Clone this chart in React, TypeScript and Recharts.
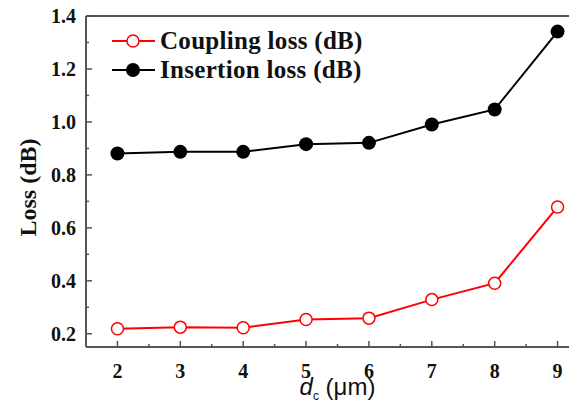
import React from "react";
import { LineChart, Line, XAxis, YAxis, ReferenceLine, Legend } from "recharts";

const dc = [2, 3, 4, 5, 6, 7, 8, 9];
const couplingLoss = [0.219, 0.225, 0.223, 0.254, 0.259, 0.329, 0.391, 0.679];
const insertionLoss = [0.881, 0.887, 0.887, 0.916, 0.921, 0.99, 1.047, 1.341];

const xTicks = [2, 2.5, 3, 3.5, 4, 4.5, 5, 5.5, 6, 6.5, 7, 7.5, 8, 8.5, 9, 9.5];
const yTicks = [0.2, 0.3, 0.4, 0.5, 0.6, 0.7, 0.8, 0.9, 1.0, 1.1, 1.2, 1.3, 1.4];

const seriesNames = ["Coupling loss (dB)", "Insertion loss (dB)"];

const data = dc.map((d, i) => ({ dc: d, coupling: couplingLoss[i], insertion: insertionLoss[i] }));

const AXIS = "#555";
const SERIF = "'Liberation Serif', 'Times New Roman', serif";

function XTick(props: any) {
  const { x, y, payload } = props;
  const major = Number.isInteger(payload.value);
  return (
    <g>
      <line x1={x} x2={x} y1={y} y2={y - (major ? 6 : 3)} stroke={AXIS} strokeWidth={1.5} />
      {major && (
        <text x={x} y={y + 31} textAnchor="middle" fontFamily={SERIF} fontWeight="bold" fontSize={20} fill="#111">
          {payload.value}
        </text>
      )}
    </g>
  );
}

function YTick(props: any) {
  const { x, y, payload } = props;
  const major = Math.round(payload.value * 10) % 2 === 0;
  return (
    <g>
      <line x1={x} x2={x + (major ? 6 : 3)} y1={y} y2={y} stroke={AXIS} strokeWidth={1.5} />
      {major && (
        <text x={x - 10} y={y + 7} textAnchor="end" fontFamily={SERIF} fontWeight="bold" fontSize={20} fill="#111">
          {payload.value.toFixed(1)}
        </text>
      )}
    </g>
  );
}

function LegendBox() {
  const rows = [
    { name: seriesNames[0], color: "#ff0000", open: true },
    { name: seriesNames[1], color: "#000", open: false },
  ];
  return (
    <div>
      {rows.map((r) => (
        <div key={r.name} style={{ display: "flex", alignItems: "center", height: 29 }}>
          <svg width={48} height={18}>
            <line x1={0} x2={43} y1={9} y2={9} stroke={r.color} strokeWidth={2} />
            <circle cx={21} cy={9} r={r.open ? 6 : 7} fill={r.open ? "#fff" : "#000"} stroke={r.color} strokeWidth={r.open ? 1.5 : 0} />
          </svg>
          <span style={{ fontFamily: SERIF, fontWeight: "bold", fontSize: 25, letterSpacing: 0.3, color: "#111", whiteSpace: "nowrap", lineHeight: 1 }}>
            {r.name}
          </span>
        </div>
      ))}
    </div>
  );
}

export default function App() {
  return (
    <div style={{ width: 569, height: 395, overflow: "hidden", background: "#fff" }}>
      <LineChart width={590} height={400} data={data} margin={{ top: 8, right: 9, bottom: 0, left: 0 }}>
        <XAxis
          dataKey="dc"
          type="number"
          domain={[1.5, 9.5]}
          ticks={xTicks}
          interval={0}
          tickSize={0}
          tickMargin={0}
          tickLine={false}
          tick={<XTick />}
          height={61}
          axisLine={{ stroke: AXIS, strokeWidth: 2 }}
          label={{
            content: (p: any) => {
              const vb = p.viewBox;
              return (
                <text x={vb.x + vb.width / 2} y={vb.y + 48} textAnchor="middle" fontFamily="'Liberation Sans', Arial, sans-serif" fontSize={24} fill="#111">
                  <tspan fontStyle="italic">d</tspan>
                  <tspan fontSize={12} dy={5}>c</tspan>
                  <tspan dy={-5}> (μm)</tspan>
                </text>
              );
            },
          }}
        />
        <YAxis
          type="number"
          domain={[0.15, 1.4]}
          ticks={yTicks}
          interval={0}
          tickSize={0}
          tickMargin={0}
          tickLine={false}
          tick={<YTick />}
          width={78}
          axisLine={{ stroke: AXIS, strokeWidth: 2 }}
          label={{
            content: (p: any) => {
              const vb = p.viewBox;
              const cx = vb.x + 20;
              const cy = vb.y + vb.height / 2 + 6;
              return (
                <text x={cx} y={cy} transform={`rotate(-90 ${cx} ${cy})`} textAnchor="middle" dominantBaseline="central" fontFamily={SERIF} fontWeight="bold" fontSize={24} fill="#111">
                  Loss (dB)
                </text>
              );
            },
          }}
        />
        <ReferenceLine y={1.4} stroke={AXIS} strokeWidth={2} />
        <Legend
          layout="vertical"
          verticalAlign="middle"
          align="center"
          wrapperStyle={{ top: 18, left: 104, width: "auto" }}
          content={() => <LegendBox />}
        />
        <Line
          dataKey="insertion"
          name={seriesNames[1]}
          stroke="#000"
          strokeWidth={2}
          dot={{ r: 7, fill: "#000", stroke: "#000", strokeWidth: 0 }}
          isAnimationActive={false}
        />
        <Line
          dataKey="coupling"
          name={seriesNames[0]}
          stroke="#ff0000"
          strokeWidth={2}
          dot={{ r: 6, fill: "#fff", stroke: "#ff0000", strokeWidth: 1.5 }}
          isAnimationActive={false}
        />
      </LineChart>
    </div>
  );
}
